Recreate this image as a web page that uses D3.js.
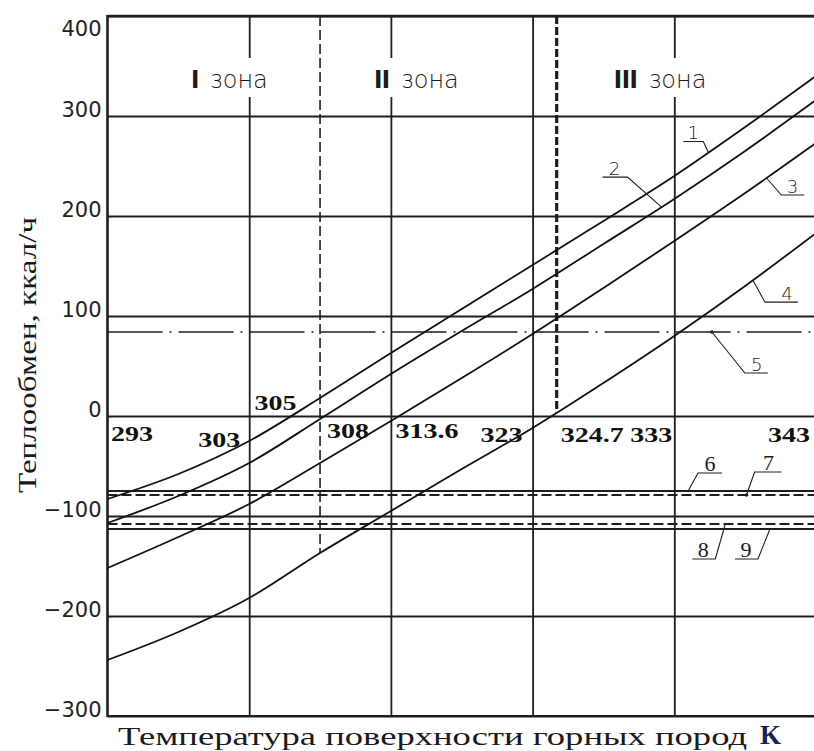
<!DOCTYPE html>
<html>
<head>
<meta charset="utf-8">
<script src="https://cdn.jsdelivr.net/npm/d3@7"></script>
<style>
  html, body { margin: 0; padding: 0; background: #fff; }
  svg { display: block; }
</style>
</head>
<body>
<svg id="chart" width="814" height="751"></svg>
<script>
// Rock surface temperature, K (sample points of the curves)
const temps  = [293, 298, 303, 308, 313, 318, 323, 328, 333, 338, 343];
// Heat exchange, kcal/h, curves 1–4
const curve1 = [-83, -58, -25, 18, 63, 107, 151, 195, 240, 289, 340];
const curve2 = [-107, -80, -47, -3, 42, 85, 127, 172, 217, 265, 316];
const curve3 = [-152, -121, -88, -47, -5, 38, 82, 128, 175, 223, 273];
const curve4 = [-244, -216, -182, -137, -95, -53, -12, 33, 80, 130, 183];
const curveIds = ["1", "2", "3", "4"];

// Constant levels 5–9, kcal/h
const levelIds    = ["5", "6", "7", "8", "9"];
const levelValues = [84, -75, -79, -108, -113];

// Zone boundaries, K, and zone names
const zoneBounds = [308, 324.7];
const zoneNames  = ["I", "II", "III"];

// Axis ticks
const yTicks = [-300, -200, -100, 0, 100, 200, 300, 400];
const xGrid  = [293, 303, 313, 323, 333, 343];

// Temperatures written along the zero line
const markTemps = [293, 303, 305, 308, 313.6, 323, 324.7, 333, 343];

// ---------------------------------------------------------------
const W = 814, H = 751;
const svg = d3.select("#chart");
const x = d3.scaleLinear().domain([293, 343]).range([107.5, 816]);
const y = d3.scaleLinear().domain([-300, 400]).range([716, 16]);

const curves = [curve1, curve2, curve3, curve4];
const seriesOf = {};
curveIds.forEach((id, i) => seriesOf[id] = t => interp(curves[i], t));
levelIds.forEach((id, i) => seriesOf[id] = () => levelValues[i]);

function interp(vals, t) {
  const i = Math.max(1, Math.min(temps.length - 1, d3.bisectLeft(temps, t)));
  const t0 = temps[i - 1], t1 = temps[i];
  return vals[i - 1] + (vals[i] - vals[i - 1]) * (t - t0) / (t1 - t0);
}

const ink = "#1e1e1e";

// Horizontal grid with value labels
const yAxis = d3.axisLeft(y)
  .tickValues(yTicks)
  .tickSize(-(W - x(293) + 4))
  .tickPadding(6)
  .tickFormat(d3.format("d"));
const gy = svg.append("g").attr("transform", `translate(${x(293)},0)`).call(yAxis);
gy.select(".domain").remove();
gy.selectAll(".tick line").attr("stroke", ink).attr("stroke-width", 1.8);
gy.selectAll(".tick text")
  .attr("dy", d => d === 400 ? "19px" : "0px")
  .attr("fill", "#222")
  .style("font-family", "'DejaVu Sans', sans-serif")
  .style("font-size", "21px");

// Vertical grid
const xAxis = d3.axisBottom(x)
  .tickValues(xGrid.slice(1))
  .tickSize(-(y(-300) - y(400)))
  .tickFormat("");
const gx = svg.append("g").attr("transform", `translate(0,${y(-300)})`).call(xAxis);
gx.select(".domain").remove();
gx.selectAll(".tick line").attr("stroke", ink).attr("stroke-width", 1.8);

// Frame: left and top edges heavier
svg.append("line").attr("x1", x(293)).attr("x2", x(293)).attr("y1", y(400) - 1).attr("y2", y(-300) + 1)
  .attr("stroke", ink).attr("stroke-width", 2.6);
svg.append("line").attr("x1", x(293)).attr("x2", W).attr("y1", y(400)).attr("y2", y(400))
  .attr("stroke", ink).attr("stroke-width", 2.6);
svg.append("line").attr("x1", x(293)).attr("x2", W).attr("y1", y(-300)).attr("y2", y(-300))
  .attr("stroke", ink).attr("stroke-width", 2.2);

// Zone captions, cut out of the grid
const zoneCentres = [301.6, 314.8, 332.0];
const zoneG = svg.append("g");
zoneNames.forEach((name, i) => {
  const g = zoneG.append("g");
  const t = g.append("text")
    .attr("x", x(zoneCentres[i])).attr("y", 88)
    .attr("text-anchor", "middle")
    .attr("fill", "#1a1a1a")
    .style("font-size", "24px");
  t.append("tspan")
    .style("font-family", "'Liberation Sans Narrow', 'DejaVu Sans Condensed', sans-serif")
    .style("font-weight", "bold")
    .style("font-size", "25px")
    .style("letter-spacing", "-0.5px")
    .text(name);
  t.append("tspan")
    .attr("dx", 11)
    .style("font-family", "'DejaVu Sans', sans-serif")
    .style("font-weight", "200")
    .text("зона");
  const b = t.node().getBBox();
  g.insert("rect", "text")
    .attr("x", b.x - 4).attr("width", b.width + 8)
    .attr("y", 58).attr("height", 39)
    .attr("fill", "#fff");
});

// Constant levels 5–9
const levelStyle = {
  "5": { dash: "55,7,2,7", w: 1.5 },
  "6": { dash: null, w: 1.8 },
  "7": { dash: "10,4", w: 1.8 },
  "8": { dash: "10,4", w: 1.8 },
  "9": { dash: null, w: 1.8 }
};
svg.append("g").selectAll("line")
  .data(levelIds)
  .join("line")
  .attr("x1", x(293)).attr("x2", W)
  .attr("y1", (d, i) => y(levelValues[i])).attr("y2", (d, i) => y(levelValues[i]))
  .attr("stroke", ink)
  .attr("stroke-width", d => levelStyle[d].w)
  .attr("stroke-dasharray", d => levelStyle[d].dash);

// Zone boundaries, dropped from the top edge to curve 4
const boundStyle = [{ dash: "10,4", w: 1.6 }, { dash: "8,3", w: 3.2 }];
zoneBounds.forEach((t, i) => {
  svg.append("line")
    .attr("x1", x(t)).attr("x2", x(t))
    .attr("y1", y(400)).attr("y2", y(Math.max(interp(curve4, t), i === 1 ? 0 : -1000)))
    .attr("stroke", ink)
    .attr("stroke-width", boundStyle[i].w)
    .attr("stroke-dasharray", boundStyle[i].dash);
});

// Curves 1–4
const line = d3.line().x(d => x(d[0])).y(d => y(d[1])).curve(d3.curveMonotoneX);
svg.append("g").selectAll("path")
  .data(curves)
  .join("path")
  .attr("d", vals => line(temps.map((t, i) => [t, vals[i]])))
  .attr("fill", "none")
  .attr("stroke", "#111")
  .attr("stroke-width", 1.8);

// Temperatures along the zero line
const markLayout = {
  "293":   ["start", 3.5, 25],
  "303":   ["end", -9, 31],
  "305":   ["middle", -2, -6],
  "308":   ["start", 7, 22],
  "313.6": ["start", -4, 22],
  "323":   ["end", -10, 26],
  "324.7": ["start", 4, 26],
  "333":   ["end", -2, 26],
  "343":   ["end", -6, 26]
};
svg.append("g").selectAll("text")
  .data(markTemps)
  .join("text")
  .attr("x", t => x(t) + markLayout[String(t)][1])
  .attr("y", t => y(0) + markLayout[String(t)][2])
  .attr("text-anchor", t => markLayout[String(t)][0])
  .attr("textLength", t => { const s = String(t); return s.replace(".", "").length * 14 + (s.includes(".") ? 7 : 0); })
  .attr("lengthAdjust", "spacingAndGlyphs")
  .attr("fill", "#111")
  .style("font-family", "'Liberation Serif', 'Times New Roman', serif")
  .style("font-weight", "bold")
  .style("font-size", "22px")
  .text(t => String(t));

// Leader callouts 1–9
const leaders = {
  "1": { at: 335.4, elbow: [-5, -11], end: [-25, -11], text: [-15, -13] },
  "2": { at: 332.1, elbow: [-34, -30], end: [-59, -30], text: [-47, -32] },
  "3": { at: 339.5, elbow: [15, 17],  end: [38, 17],   text: [26, 15] },
  "4": { at: 338.55, elbow: [12, 22], end: [45, 22],   text: [34, 20] },
  "5": { at: 335.65, elbow: [33, 41], end: [56, 41],   text: [45, 39], dot: true },
  "6": { at: 333.97, elbow: [10, -18], end: [34, -18], text: [22, -20] },
  "7": { at: 338.1, elbow: [8, -23],  end: [35, -23],  text: [22, -25], dot: true },
  "8": { at: 336.6, elbow: [-10, 35], end: [-33, 35],  text: [-22, 33] },
  "9": { at: 339.75, elbow: [-12, 30], end: [-35, 30], text: [-24, 28] }
};
const lg = svg.append("g");
curveIds.concat(levelIds).forEach(id => {
  const L = leaders[id];
  const ax = x(L.at), ay = y(seriesOf[id](L.at));
  lg.append("path")
    .attr("d", `M${ax},${ay}L${ax + L.elbow[0]},${ay + L.elbow[1]}L${ax + L.end[0]},${ay + L.end[1]}`)
    .attr("fill", "none").attr("stroke", ink).attr("stroke-width", 1.1);
  if (L.dot) lg.append("circle").attr("cx", ax).attr("cy", ay).attr("r", 1.8).attr("fill", ink);
  const serif = +id >= 6;
  lg.append("text")
    .attr("x", ax + L.text[0]).attr("y", ay + L.text[1])
    .attr("text-anchor", "middle")
    .attr("fill", "#1a1a1a")
    .style("font-family", serif ? "'Liberation Serif', serif" : "'DejaVu Sans', sans-serif")
    .style("font-weight", serif ? "normal" : "200")
    .style("font-size", serif ? "22px" : "18px")
    .text(id);
});

// Axis titles
svg.append("text")
  .attr("transform", "translate(36,355) rotate(-90)")
  .attr("text-anchor", "middle")
  .attr("textLength", 276).attr("lengthAdjust", "spacingAndGlyphs")
  .attr("fill", "#1a1a1a")
  .style("font-family", "'Liberation Serif', 'Times New Roman', serif")
  .style("font-size", "25px")
  .text("Теплообмен, ккал/ч");

svg.append("text")
  .attr("x", 118).attr("y", 745)
  .attr("textLength", 629).attr("lengthAdjust", "spacingAndGlyphs")
  .attr("fill", "#1a1a1a")
  .style("font-family", "'Liberation Serif', 'Times New Roman', serif")
  .style("font-size", "26px")
  .text("Температура поверхности горных пород");
svg.append("text")
  .attr("x", 760).attr("y", 744)
  .attr("fill", "#1c2050")
  .style("font-family", "'Liberation Serif', 'Times New Roman', serif")
  .style("font-weight", "bold")
  .style("font-size", "27px")
  .text("K");
</script>
</body>
</html>
